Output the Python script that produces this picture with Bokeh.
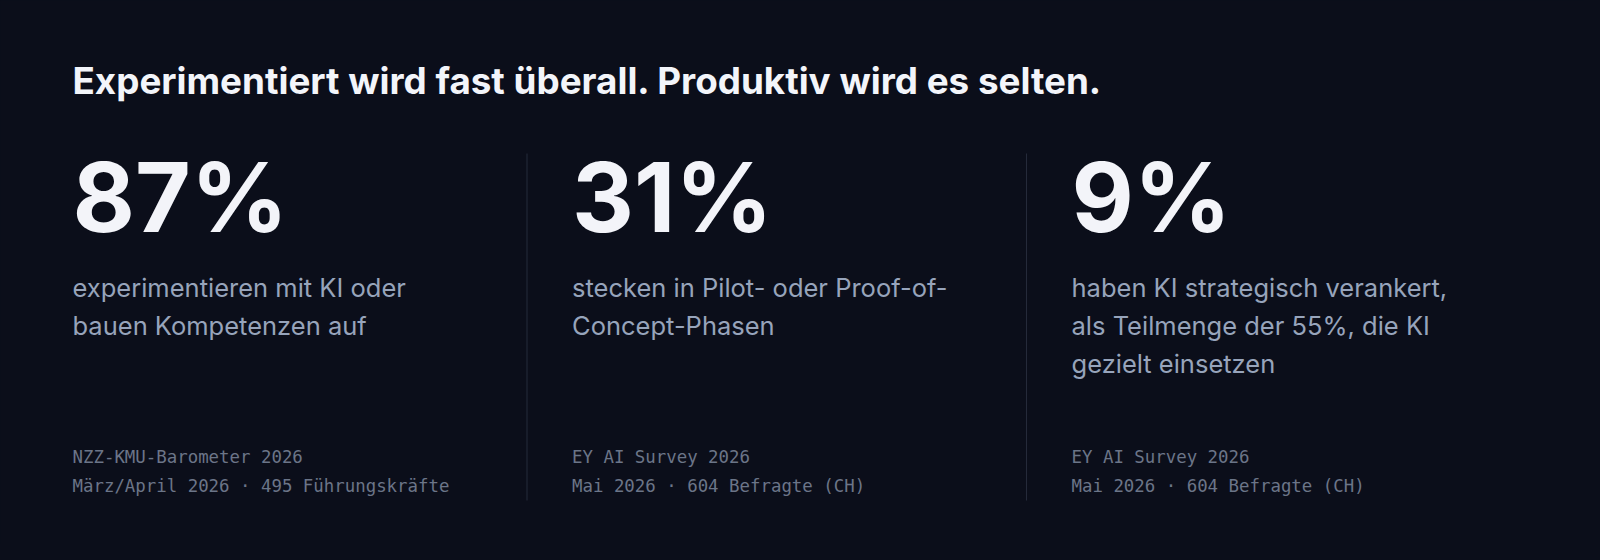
from bokeh.plotting import figure
from bokeh.models import Range1d, GlobalInlineStyleSheet
from bokeh.core.properties import value
from bokeh.embed import file_html
from bokeh.resources import INLINE

# --- data -------------------------------------------------------------
headline = "Experimentiert wird fast überall. Produktiv wird es selten."
shares = [87, 31, 9]
descriptions = [
    ["experimentieren mit KI oder", "bauen Kompetenzen auf"],
    ["stecken in Pilot- oder Proof-of-", "Concept-Phasen"],
    ["haben KI strategisch verankert,", "als Teilmenge der 55%, die KI", "gezielt einsetzen"],
]
sources = [
    ["NZZ-KMU-Barometer 2026", "März/April 2026 · 495 Führungskräfte"],
    ["EY AI Survey 2026", "Mai 2026 · 604 Befragte (CH)"],
    ["EY AI Survey 2026", "Mai 2026 · 604 Befragte (CH)"],
]

# --- layout (screen pixel coordinates) --------------------------------
BG = "#0b0e1a"
left, col_w = 72, 499.5
SHIFT = 0.4   # bokeh draws "alphabetic" text a bit low, pull it up by this * size


def base(y, size):
    return y - SHIFT * size


p = figure(width=1584, height=544, output_backend="svg", toolbar_location=None,
           x_range=Range1d(0, 1584), y_range=Range1d(544, 0),
           min_border=0, background_fill_color=BG, border_fill_color=BG)
p.axis.visible = False
p.grid.visible = False
p.outline_line_color = None
p.stylesheets = [GlobalInlineStyleSheet(css="html, body { background-color: %s; }" % BG)]

# column dividers
div_x = [left + i * col_w - 45 for i in range(1, len(shares))]
p.segment(x0=div_x, y0=[153] * len(div_x), x1=div_x, y1=[500] * len(div_x),
          line_color="#252a3a", line_width=1)

# headline
p.text(x=[left], y=[base(95, 36.8)], text=[headline], text_font=value("Inter"),
       text_font_style="bold", text_font_size="36.8px", text_color="#f3f5fa",
       text_baseline="alphabetic")

# descriptions
dx, dy, dt = [], [], []
for i, lines in enumerate(descriptions):
    for j, line in enumerate(lines):
        dx.append(left + i * col_w)
        dy.append(base(297 + j * 38.3, 25.5))
        dt.append(line)
p.text(x=dx, y=dy, text=dt, text_font=value("Inter"), text_font_size="25.5px",
       text_color="#97a4bb", text_baseline="alphabetic")

# sources
sx, sy, st = [], [], []
for i, lines in enumerate(sources):
    for j, line in enumerate(lines):
        sx.append(left + i * col_w)
        sy.append(base(463 + j * 29.3, 17.4))
        st.append(line)
p.text(x=sx, y=sy, text=st, text_font=value("DejaVu Sans Mono"), text_font_size="17.4px",
       text_color="#6b7588", text_baseline="alphabetic")

# big numbers (a size of exactly 100px breaks the svg font parser)
p.text(x=[left + i * col_w for i in range(len(shares))],
       y=[base(235, 96)] * len(shares),
       text=[str(s) + "%" for s in shares], text_font=value("Inter"),
       text_font_style="bold", text_font_size="96px", text_color="#f3f4f9",
       text_baseline="alphabetic")

open("out.html", "w").write(file_html(p, INLINE))
